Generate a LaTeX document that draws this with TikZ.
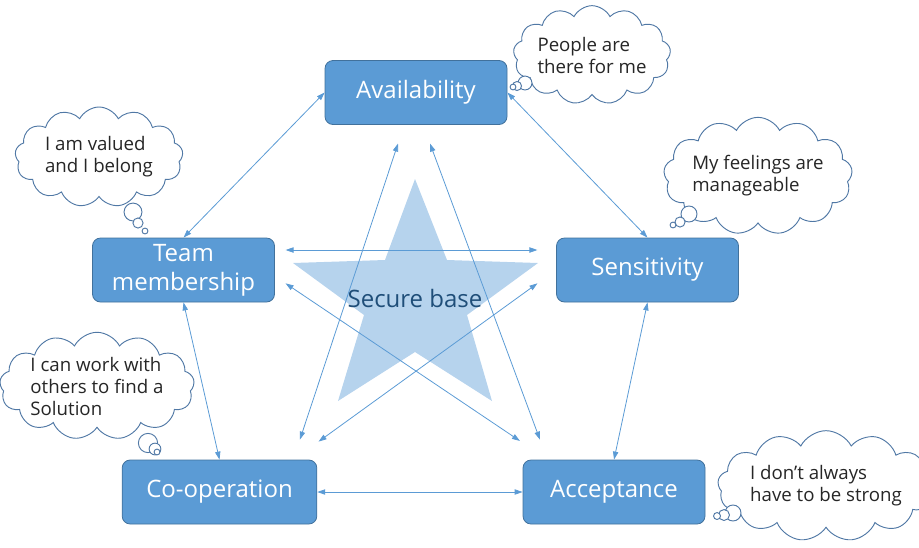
\documentclass[tikz,border=0pt]{standalone}
\usepackage{fontspec}
\setmainfont{Open Sans}
\usetikzlibrary{arrows.meta, shapes.symbols}
\definecolor{boxBlue}{RGB}{91,155,213}
\definecolor{boxEdge}{RGB}{65,113,156}
\definecolor{starBlue}{RGB}{182,211,237}
\definecolor{linkBlue}{RGB}{91,155,213}
\definecolor{textNavy}{RGB}{31,78,121}
\definecolor{cloudEdge}{RGB}{80,120,165}
\definecolor{cloudText}{RGB}{38,38,38}

\begin{document}
\begin{tikzpicture}[x=0.75pt, y=-0.75pt,
	baseBox/.style={draw=boxEdge, fill=boxBlue, line width=0.6pt, rounded corners=6pt,
		minimum width=136.5pt, minimum height=48pt, align=center, text=white,
		font=\fontsize{18}{22}\selectfont},
	link/.style={draw=linkBlue, line width=0.6pt,
		{Triangle[length=6pt,width=4pt]}-{Triangle[length=6pt,width=4pt]}},
	thought/.style={cloud, cloud puffs=13, cloud puff arc=125, cloud ignores aspect,
		draw=cloudEdge, fill=white, line width=0.7pt, inner sep=0pt, align=left,
		text=cloudText, font=\fontsize{14}{16.5}\selectfont},
	bubble/.style={draw=cloudEdge, fill=white, line width=0.7pt}]

	\useasboundingbox (0,0) rectangle (919,547);

% Draw star.

	\fill[starBlue] (415,179) -- (447,260) -- (538,263) -- (467,315) -- (492,401)
		-- (415,352) -- (338,401) -- (364,315) -- (293,263) -- (385,260) -- cycle;
	\node[text=textNavy, font=\fontsize{18}{22}\selectfont] (secure) at (415,298) {Secure base};

% Draw boxes.

	\node[baseBox] (avail) at (416,92.5) {Availability};
	\node[baseBox] (team) at (183.5,270) {Team\\membership};
	\node[baseBox] (sens) at (647.5,270) {Sensitivity};
	\node[baseBox, minimum width=146pt] (coop) at (219.5,492) {Co-operation};
	\node[baseBox] (acc) at (614,492) {Acceptance};

% Draw links.

	\draw[link] (avail.west) -- (team.north);
	\draw[link] (avail.east) -- (sens.north);
	\draw[link] ([xshift=8pt,yshift=15pt]team.east) -- ([xshift=-14pt,yshift=15pt]sens.west);
	\draw[link] ([xshift=8pt,yshift=-10pt]team.east) -- ([xshift=-2pt,yshift=14pt]acc.north west);
	\draw[link] ([xshift=-14pt,yshift=-10pt]sens.west) -- ([xshift=1pt,yshift=13.5pt]coop.north east);
	\draw[link] ([xshift=-13.5pt,yshift=-14pt]avail.south) -- ([xshift=-13pt,yshift=15pt]coop.north east);
	\draw[link] ([xshift=10.5pt,yshift=-14pt]avail.south) -- ([xshift=13pt,yshift=15pt]acc.north west);
	\draw[link] (team.south) -- (coop.north);
	\draw[link] (sens.south) -- (acc.north);
	\draw[link] (coop.east) -- (acc.west);

% Draw thought clouds.

	\node[thought, minimum width=118pt, minimum height=74pt] (cloudAvail) at (592,55) {People are\\there for me};
	\node[thought, minimum width=126pt, minimum height=75pt] (cloudTeam) at (99,157) {I am valued\\and I belong};
	\node[thought, minimum width=128pt, minimum height=88pt] (cloudSens) at (758,176) {My feelings are\\manageable};
	\node[thought, minimum width=136pt, minimum height=79pt] (cloudCoop) at (97,386) {I can work with\\others to find a\\Solution};
	\node[thought, minimum width=144pt, minimum height=83pt] (cloudAcc) at (826,486) {I don't always\\have to be strong};

% Draw bubbles.

	\draw[bubble] (525,83) circle (5.2pt);
	\draw[bubble] (517,86) circle (3.4pt);
	\draw[bubble] (513,87) circle (2.2pt);

	\draw[bubble] (133,212) circle (6.7pt);
	\draw[bubble] (138,223) circle (3.8pt);
	\draw[bubble] (145,231) circle (2.2pt);

	\draw[bubble] (689,214) circle (6pt);
	\draw[bubble] (680,222) circle (3.8pt);
	\draw[bubble] (673,225) circle (2.2pt);

	\draw[bubble] (148,443) circle (7.2pt);
	\draw[bubble] (155,449) circle (4.4pt);
	\draw[bubble] (157,452) circle (2.2pt);

	\draw[bubble] (733,513) circle (6pt);
	\draw[bubble] (724,515) circle (4.1pt);
	\draw[bubble] (717,516) circle (2.6pt);

\end{tikzpicture}
\end{document}
